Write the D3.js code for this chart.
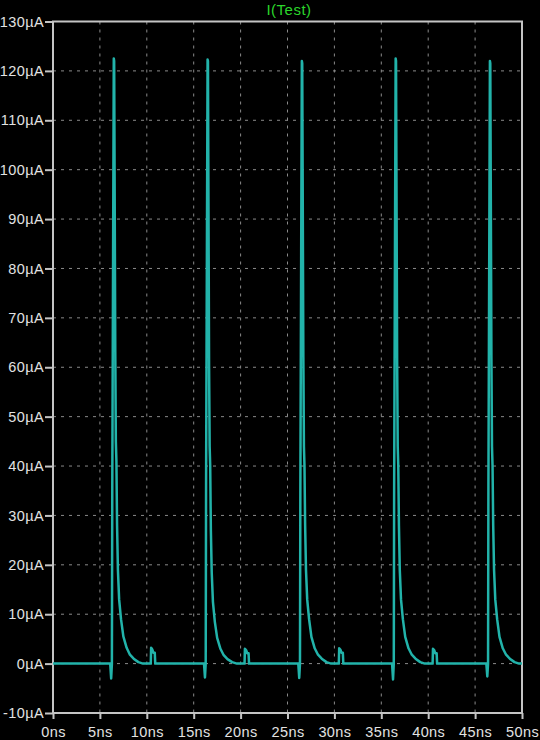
<!DOCTYPE html>
<html>
<head>
<meta charset="utf-8">
<script src="https://cdn.jsdelivr.net/npm/d3@7"></script>
<style>
  html, body { margin: 0; padding: 0; background: #000; }
  svg { display: block; }
</style>
</head>
<body>
<svg id="chart" width="540" height="740"></svg>
<script>
// ---- Data ----
const title = "I(Test)";

const xTicks = [0, 5, 10, 15, 20, 25, 30, 35, 40, 45, 50];
const xTickLabels = ["0ns","5ns","10ns","15ns","20ns","25ns","30ns","35ns","40ns","45ns","50ns"];
const yTicks = [-10, 0, 10, 20, 30, 40, 50, 60, 70, 80, 90, 100, 110, 120, 130];
const yTickLabels = ["-10µA","0µA","10µA","20µA","30µA","40µA","50µA","60µA","70µA","80µA","90µA","100µA","110µA","120µA","130µA"];

// time in ns
const timeNs = [
  0,
  6.10, 6.20, 6.28, 6.32, 6.48, 6.52, 6.64, 6.70, 6.76, 6.83, 6.92, 7.05, 7.25, 7.50, 7.85, 8.20, 8.60, 9.10, 9.60, 10.42, 10.46, 10.60, 10.70, 10.85, 10.90,
  16.10, 16.20, 16.28, 16.32, 16.48, 16.52, 16.64, 16.70, 16.76, 16.83, 16.92, 17.05, 17.25, 17.50, 17.85, 18.20, 18.60, 19.10, 19.60, 20.42, 20.46, 20.60, 20.70, 20.85, 20.90,
  26.15, 26.25, 26.33, 26.37, 26.53, 26.57, 26.69, 26.75, 26.81, 26.88, 26.97, 27.10, 27.30, 27.55, 27.90, 28.25, 28.65, 29.15, 29.65, 30.47, 30.51, 30.65, 30.75, 30.90, 30.95,
  36.15, 36.25, 36.33, 36.37, 36.53, 36.57, 36.69, 36.75, 36.81, 36.88, 36.97, 37.10, 37.30, 37.55, 37.90, 38.25, 38.65, 39.15, 39.65, 40.47, 40.51, 40.65, 40.75, 40.90, 40.95,
  46.20, 46.30, 46.38, 46.42, 46.58, 46.62, 46.74, 46.80, 46.86, 46.93, 47.02, 47.15, 47.35, 47.60, 47.95, 48.30, 48.70, 49.20, 49.70,
  50
];
// current in µA
const currentUA = [
  0,
  0, -3.0, 0, 36, 122.5, 122, 63, 45, 41, 28, 19, 13, 9, 5.5, 3.2, 1.8, 1.0, 0.3, 0, 0, 3.2, 2.8, 2.2, 2.2, 0,
  0, -2.8, 0, 37, 122.3, 122, 60, 44, 40, 27, 18.5, 12.5, 8.5, 5.2, 3.0, 1.7, 0.9, 0.3, 0, 0, 3.0, 2.7, 2.1, 2.1, 0,
  0, -2.9, 0, 35, 122, 121.5, 62, 44, 40, 28, 19, 13, 9, 5.4, 3.1, 1.8, 1.0, 0.3, 0, 0, 3.1, 2.8, 2.2, 2.2, 0,
  0, -3.2, 0, 36, 122.5, 122, 61, 44, 40, 28, 19, 13, 9, 5.4, 3.1, 1.8, 1.0, 0.3, 0, 0, 3.0, 2.7, 2.1, 2.1, 0,
  0, -2.6, 0, 36, 122, 121.5, 62, 44, 40, 28, 19, 13, 9, 5.4, 3.1, 1.8, 1.0, 0.3, 0,
  0
];

// ---- Layout ----
const svg = d3.select("#chart");
const W = 540, H = 740;
const mLeft = 53, mRight = 522, mTop = 21.5, mBottom = 713;

svg.append("rect").attr("width", W).attr("height", H).attr("fill", "#000");

const x = d3.scaleLinear().domain([0, 50]).range([mLeft, mRight]);
const y = d3.scaleLinear().domain([-10, 130]).range([mBottom, mTop]);

const gridColor = "#8a8a8a";
const frameColor = "#c4c4c4";
const textColor = "#e2e2e2";
const font = "'Liberation Sans', Arial, sans-serif";

// grid
svg.append("g").selectAll("line")
  .data(xTicks.slice(1, -1)).join("line")
  .attr("x1", d => x(d)).attr("x2", d => x(d))
  .attr("y1", mTop).attr("y2", mBottom)
  .attr("stroke", gridColor).attr("stroke-width", 1)
  .attr("stroke-dasharray", "3,5");
svg.append("g").selectAll("line")
  .data(yTicks.slice(1, -1)).join("line")
  .attr("x1", mLeft).attr("x2", mRight)
  .attr("y1", d => y(d)).attr("y2", d => y(d))
  .attr("stroke", gridColor).attr("stroke-width", 1)
  .attr("stroke-dasharray", "3,5");

// axes via d3
const yAxis = d3.axisLeft(y).tickValues(yTicks)
  .tickFormat((d, i) => yTickLabels[i]).tickSize(8).tickPadding(1);
const gy = svg.append("g").attr("transform", `translate(${mLeft},0)`).call(yAxis);
const xAxis = d3.axisBottom(x).tickValues(xTicks)
  .tickFormat((d, i) => xTickLabels[i]).tickSize(6).tickPadding(8);
const gx = svg.append("g").attr("transform", `translate(0,${mBottom})`).call(xAxis);

[gx, gy].forEach(g => {
  g.select(".domain").remove();
  g.selectAll(".tick line").attr("stroke", frameColor).attr("stroke-width", 2);
  g.selectAll(".tick text").attr("fill", textColor)
    .attr("font-family", font).attr("font-size", 14.5)
    .attr("letter-spacing", "0.4px");
});

// frame
svg.append("rect")
  .attr("x", mLeft).attr("y", mTop)
  .attr("width", mRight - mLeft).attr("height", mBottom - mTop)
  .attr("fill", "none").attr("stroke", frameColor).attr("stroke-width", 2);

// title
svg.append("text")
  .attr("x", 289).attr("y", 15)
  .attr("text-anchor", "middle")
  .attr("fill", "#2bd62b")
  .attr("font-family", font).attr("font-size", 15)
  .attr("letter-spacing", "0.5px")
  .text(title);

// trace
const pts = timeNs.map((t, i) => [t, currentUA[i]]);
const line = d3.line().x(d => x(d[0])).y(d => y(d[1]));
svg.append("path")
  .datum(pts)
  .attr("d", line)
  .attr("fill", "none")
  .attr("stroke", "#22b3aa")
  .attr("stroke-width", 2.5)
  .attr("stroke-linejoin", "round");
</script>
</body>
</html>
